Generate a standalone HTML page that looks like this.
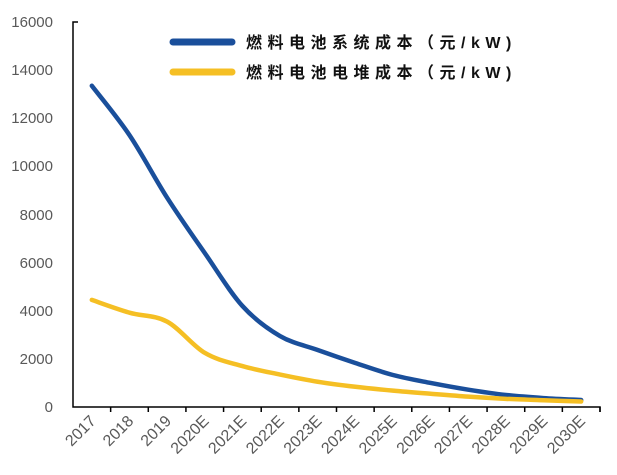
<!DOCTYPE html>
<html><head><meta charset="utf-8"><style>
body{margin:0;background:#fff;}
svg{display:block;font-family:"Liberation Sans","Noto Sans CJK SC",sans-serif;}
</style></head><body>
<svg id="s" width="617" height="475" viewBox="0 0 617 475">
<g fill="#595959" font-size="15" text-anchor="end">
<text x="53" y="27">16000</text><text x="53" y="75">14000</text><text x="53" y="123">12000</text>
<text x="53" y="171">10000</text><text x="53" y="220">8000</text><text x="53" y="268">6000</text>
<text x="53" y="316">4000</text><text x="53" y="364">2000</text><text x="53" y="412">0</text>
</g>
<g stroke="#000" stroke-width="1.5" fill="none">
<path d="M78 22H73V407H600V412"/>
<path id="ticks" d=""/>
</g>
<g id="xl" fill="#595959" font-size="16" text-anchor="end"></g>
<path id="b" fill="none" stroke="#1a4f9b" stroke-width="4.5" stroke-linecap="round"/>
<path id="y" fill="none" stroke="#f5bf24" stroke-width="4.5" stroke-linecap="round"/>
<line x1="173" y1="42" x2="232" y2="42" stroke="#1a4f9b" stroke-width="7" stroke-linecap="round"/>
<line x1="173" y1="72" x2="232" y2="72" stroke="#f5bf24" stroke-width="7" stroke-linecap="round"/>
<g font-size="16" font-weight="bold" fill="#111" letter-spacing="5.5">
<text x="246" y="48">燃料电池系统成本（元/kW)</text>
<text x="246" y="78">燃料电池电堆成本（元/kW)</text>
</g>
</svg>
<script>
var labs=["2017","2018","2019","2020E","2021E","2022E","2023E","2024E","2025E","2026E","2027E","2028E","2029E","2030E"];
var w=527/14,t="";
for(var i=1;i<=14;i++){var x=73+w*i;t+="M"+x+" 407V412";}
document.getElementById("ticks").setAttribute("d",t);
var g=document.getElementById("xl");
labs.forEach(function(l,i){var cx=73+w*(i+0.5)+5;var e=document.createElementNS("http://www.w3.org/2000/svg","text");e.setAttribute("transform","translate("+cx+",422) rotate(-45)");e.textContent=l;g.appendChild(e);});
function Y(v){return 407-v*385/16000;}
function path(vals){var p=vals.map(function(v,i){return [73+w*(i+0.5),Y(v)];});
var d="M"+p[0][0]+" "+p[0][1];
for(var i=0;i<p.length-1;i++){var p0=p[i-1]||p[i],p1=p[i],p2=p[i+1],p3=p[i+2]||p2;
d+="C"+(p1[0]+(p2[0]-p0[0])/6)+" "+(p1[1]+(p2[1]-p0[1])/6)+" "+(p2[0]-(p3[0]-p1[0])/6)+" "+(p2[1]-(p3[1]-p1[1])/6)+" "+p2[0]+" "+p2[1];}
return d;}
document.getElementById("b").setAttribute("d",path([13350,11300,8700,6400,4200,2950,2370,1830,1330,1000,720,500,370,290]));
document.getElementById("y").setAttribute("d",path([4450,3920,3550,2250,1700,1350,1050,840,680,550,430,340,280,230]));
</script>
</body></html>
